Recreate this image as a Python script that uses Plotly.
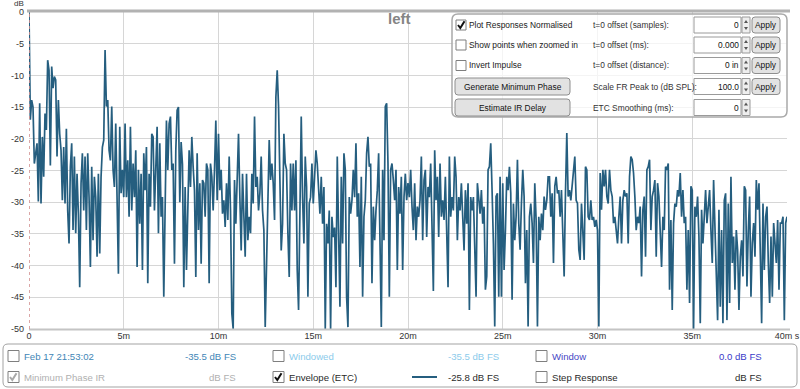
import numpy as np
import plotly.graph_objects as go

# ---------------- data ----------------
x_tick_vals = [0, 5, 10, 15, 20, 25, 30, 35, 40]
x_tick_text = ["0", "5m", "10m", "15m", "20m", "25m", "30m", "35m", "40m s"]
y_tick_vals = [0, -5, -10, -15, -20, -25, -30, -35, -40, -45, -50]
y_tick_text = ["0", "-5", "-10", "-15", "-20", "-25", "-30", "-35", "-40", "-45", "-50"]

etc_part1 = [0, -17, -13.9, -15, -23.9, -22.3, -20.7, -29.9, -14.4, -30.2,
             -19.7, -26, -16, -18.6, -7.6, -9.2, -24.2, -8.6, -12, -10.2,
             -10.7, -22.8, -13.9, -19.2, -21.8, -29.7, -21.3, -30.2, -18.4, -31.3,
             -36.5, -24.4, -20.7, -34.4, -22.8, -34.9, -25.5, -31.8, -43.4, -27,
             -22.3, -31.3, -22.8, -34.4, -22.3, -29.2, -40.2, -24.4, -36, -26,
             -29.2, -38.6, -25.5, -38.1, -26, -21.3, -20.2, -6, -14.9, -13.9,
             -21.8, -23.4, -14.9, -24.9, -27.6, -17.6, -27.6, -41.3, -18.1, -28.6,
             -24.9, -29.2, -17.6, -29.2, -23.4, -32.3, -18.1, -31.3, -23.9, -29.2,
             -21.8, -40.2, -24.9, -33.4, -25.5, -40.7, -22.3, -28.1, -21.3, -42.8,
             -25.5, -30.7, -19.2, -19.7, -31.3, -24.9, -18.1, -34.9, -20.7, -32.3,
             -29.2, -44.9, -28.1, -17.1, -24.9, -17.6, -16.5, -24.9, -23.9, -39.7,
             -21.8, -15.5]
etc_part2 = [-15, -30, -20.5, -24, -43.4, -27.6, -40.7, -28.1, -21.8, -27.6,
             -19.7, -24.4, -28.1, -41.8, -22.3, -34.4, -27, -39.7, -26.5, -27,
             -32.3, -23.9, -24.9, -42.8, -23.9, -26, -31.3, -24.9, -17.1, -29.7,
             -19.2, -28.1, -24.9, -31.8, -29.7, -33.9, -27, -32.8, -22.8, -31.3,
             -47.6, -50,
             -26.5, -33.4, -26.5, -19.2, -29.2, -37.6, -25.5, -31.3, -38.6, -25.5,
             -36, -32.3, -34.9, -25.5, -30.2, -16.5, -27.6, -26, -31.3, -28.6,
             -22.8, -31.3, -34.4, -49.7,
             -40.2, -28.1, -20.2, -26.5, -23.9, -27, -32.8, -13.4, -9.2, -14.9,
             -27, -37.6, -33.4, -19.2, -23.9, -24.9, -34.9, -41.8, -23.9, -31.3,
             -23.9, -31.3, -23.4, -40.7, -47, -29.2, -16.5, -29.2, -36.5, -22.8,
             -27.6, -44.9, -30.2, -29.2, -23.9, -30.2, -24.4, -21.8, -23.9, -29.2,
             -31.8, -26, -33.4, -27.6, -50, -33.4, -36.5, -31.3, -50, -32.3]
etc_part3 = [-35.5, -34, -43.4, -22.8, -34, -46.5, -26, -36.5, -22.3, -24.9,
             -44.9, -49.7, -29.2, -31.8, -29.7, -24.9, -29.2, -20.7, -32.3, -28.6,
             -40.2, -26, -44.9, -32.3, -29.7, -22.3, -19.7, -24.4, -23.9, -42.8,
             -30.7, -36, -31.3, -28.1, -22.3, -37.6, -49.7, -24.9, -36, -14.9,
             -14.4, -23.9, -44.9, -24.9, -23.9, -26.5, -29.7, -24.9, -40.7, -27.6,
             -31.8, -26, -40.7, -29.2, -25.5, -29.7, -27, -29.2, -24.9, -30.7,
             -34.4, -27, -36, -30.7, -32.3, -29.7, -22.8, -36, -26.5, -24.9,
             -35.5, -27.6, -29.2, -23.9, -33.4, -44, -21.8, -29.7, -26, -35.5,
             -23.9, -32.3, -29.7, -32.8, -26, -36, -43.4, -22.8, -32.3, -29.2,
             -31.3, -22.8, -26, -36, -29.2, -31.3, -27, -32.3, -37.6, -28.1,
             -33.4, -27, -47, -29.2, -31.3, -29.2, -35.5, -44.9, -27, -29.2,
             -31.8, -28.1, -33.4, -30.7]
etc_part4 = [-43.8, -41.7, -24.9, -24.4, -20.7, -28.1, -36.5, -49.6, -29.1, -28.6,
             -44.9, -26, -44.9, -27, -40.7, -34.4, -26, -28.1, -24.4, -28.6,
             -45.4, -30.2, -36, -32.3, -23.3, -33.3, -37.5, -30.2, -24.9, -29.1,
             -42.8, -34.4, -49.6, -32.3, -30.2, -33.3, -39.6, -27, -32.8, -49.6,
             -32.3, -36, -31.8, -34.4, -29.1, -31.2, -29.7, -26, -26, -32.3,
             -28.6, -39.6, -27.5, -26, -28.6, -28.1, -32.3, -28.1, -36.5, -41.7,
             -28.6, -19.1, -29.1, -28.1, -29.7, -27.5, -24.9, -22.8, -29.7, -30.2,
             -37.5, -39.1, -30.2, -34.4, -39.1, -24.4, -24.9, -32.3, -32.8, -29.7,
             -32.8, -32.3, -33.9, -32.8, -34.4, -49.6, -25.4, -31.2, -24.9, -27.5,
             -24.9, -29.1, -30.2, -24.9, -28.1, -29.1, -33.3, -32.3, -34.4, -36.5,
             -32.3, -29.1, -36.5, -29.7, -28.1, -29.1, -28.6, -36.5, -26, -22.8,
             -23.3, -25.4, -29.1, -34.4]
etc_part5 = [-32.3, -33.3, -30.7, -41.7, -31.2, -29.1, -38.6, -24.9, -24.4, -23.3,
             -34.4, -29.1, -28.1, -26.5, -38.6, -27, -29.1, -36, -40.2, -32.3,
             -34.4, -24.4, -24.9, -23.9, -43.8, -32.8, -47, -33.3, -30.2, -30.7,
             -28.1, -29.1, -25.4, -32.3, -28.1, -33.3, -32.3, -43.8, -34.4, -45.9,
             -27.5, -28.1, -50, -30.7, -32.3, -29.1, -35.4, -49.1, -31.2, -36.5,
             -31.8, -28.1, -33.3, -29.7, -28.1, -34.4, -39.6, -26.5, -33.9, -40.7,
             -48.6, -31.2, -46.5, -34.4, -49.1, -29.7, -28.6, -48.6, -30.2, -45.9,
             -26, -39.6, -35.4, -43.8, -34.4, -37.5, -47, -38.6, -36, -41.7,
             -27.5, -28.1, -43.3, -34.4, -29.1, -44.9, -36.5, -33.3, -38.6, -26.5,
             -31.2, -27, -36.5, -49.1, -30.2, -40.7, -32.3, -30.7, -39.6, -45.9,
             -35.4, -44.9, -33.3, -37.5, -39.6, -32.8, -43.8, -33.3, -33.3, -32.3,
             -48.6, -33.3, -32.3]

etc_db = etc_part1 + etc_part2 + etc_part3 + etc_part4 + etc_part5
time_ms = np.linspace(0, 40, len(etc_db))  # uniform sample grid over the 40 ms span

legend_row1 = ["Feb 17 21:53:02", "-35.5 dB FS", "Windowed", "-35.5 dB FS", "Window", "0.0 dB FS"]
legend_row2 = ["Minimum Phase IR", "dB FS", "Envelope (ETC)", "-25.8 dB FS", "Step Response", "dB FS"]
panel_left = ["Plot Responses Normalised", "Show points when zoomed in", "Invert Impulse"]
panel_buttons = ["Generate Minimum Phase", "Estimate IR Delay"]
panel_mid = ["t=0 offset (samples):", "t=0 offset (ms):", "t=0 offset (distance):",
             "Scale FR Peak to (dB SPL):", "ETC Smoothing (ms):"]
panel_inputs = ["0", "0.000", "0 in", "100.0", "0"]

# ---------------- layout helpers ----------------
W, H = 800, 389
L, R, T, B = 29, 787, 12, 329
LINE_COLOR = "#255e7f"
FONT = "Liberation Sans, Arial, sans-serif"


def fx(x):
    return (x - L) / (R - L)


def fy(y):
    return (B - y) / (B - T)


def rrect(x0, y0, x1, y1, r):
    return (f"M {fx(x0 + r)},{fy(y0)} L {fx(x1 - r)},{fy(y0)} Q {fx(x1)},{fy(y0)} {fx(x1)},{fy(y0 + r)} "
            f"L {fx(x1)},{fy(y1 - r)} Q {fx(x1)},{fy(y1)} {fx(x1 - r)},{fy(y1)} "
            f"L {fx(x0 + r)},{fy(y1)} Q {fx(x0)},{fy(y1)} {fx(x0)},{fy(y1 - r)} "
            f"L {fx(x0)},{fy(y0 + r)} Q {fx(x0)},{fy(y0)} {fx(x0 + r)},{fy(y0)} Z")


shapes = []
annotations = []


def add_rrect(x0, y0, x1, y1, r, fill, line, lw=1):
    shapes.append(dict(type="path", xref="paper", yref="paper", path=rrect(x0, y0, x1, y1, r),
                       fillcolor=fill, line=dict(color=line, width=lw), layer="above"))


def add_rect(x0, y0, x1, y1, fill, line, lw=1):
    shapes.append(dict(type="rect", xref="paper", yref="paper", x0=fx(x0), x1=fx(x1),
                       y0=fy(y1), y1=fy(y0), fillcolor=fill, line=dict(color=line, width=lw), layer="above"))


def add_line(x0, y0, x1, y1, color, width, dash="solid"):
    shapes.append(dict(type="line", xref="paper", yref="paper", x0=fx(x0), x1=fx(x1),
                       y0=fy(y0), y1=fy(y1), line=dict(color=color, width=width, dash=dash), layer="above"))


def add_text(x, y, text, size=9, color="#222", anchor="left", bold=False):
    if bold:
        text = f"<b>{text}</b>"
    annotations.append(dict(xref="paper", yref="paper", x=fx(x), y=fy(y), text=text, showarrow=False,
                            xanchor=anchor, yanchor="middle", borderpad=0,
                            font=dict(size=size, color=color, family=FONT)))


def checkbox(x, yc, checked, size=10, check_color="#111"):
    add_rect(x, yc - size / 2, x + size, yc + size / 2, "white", "#7f7f7f", 1)
    if checked:
        shapes.append(dict(type="path", xref="paper", yref="paper",
                           path=f"M {fx(x + 2)},{fy(yc)} L {fx(x + 4.3)},{fy(yc + 3)} L {fx(x + 8.5)},{fy(yc - 3.8)}",
                           line=dict(color=check_color, width=2), layer="above"))


# plot frame decorations
add_line(27, 11, 790, 11, "#b2b2b2", 3)
add_line(29, 329.5, 790, 329.5, "#c4c4c4", 2)
shapes.append(dict(type="line", xref="x", yref="y", x0=0, x1=0, y0=-50, y1=0,
                   line=dict(color="#d39090", width=1.6, dash="dot"), layer="above"))

# title
add_text(399, 19, "left", size=15, color="#858585", anchor="center", bold=True)

# y unit
add_text(19, 3.5, "dB", size=8, color="#333", anchor="center")

# ------------- control panel -------------
add_rrect(452, 14, 787, 117, 6, "rgba(255,255,255,0.72)", "#a9a9a9", 1.5)
rows = [25, 45, 65.5, 86.5, 107.5]
PS = 8.4
for k, lbl in enumerate(panel_left):
    checkbox(456, rows[k], checked=(k == 0))
    add_text(468, rows[k], lbl, size=PS, color="#222")
for k, lbl in enumerate(panel_buttons):
    yc = rows[3 + k]
    add_rrect(455, yc - 8.5, 570, yc + 8.5, 3, "#e2e2e2", "#8e8e8e", 1)
    add_text(512.5, yc, lbl, size=PS, color="#111", anchor="center")
for k, lbl in enumerate(panel_mid):
    add_text(592, rows[k], lbl, size=PS, color="#333")
for k, val in enumerate(panel_inputs):
    yc = rows[k]
    add_rect(694, yc - 8, 741, yc + 8, "white", "#9a9a9a", 1)
    add_text(740, yc, val, size=PS, color="#111", anchor="right")
    add_rect(742, yc - 8, 750, yc + 8, "#eeeeee", "#9a9a9a", 1)
    shapes.append(dict(type="path", xref="paper", yref="paper",
                       path=f"M {fx(744)},{fy(yc - 2)} L {fx(748)},{fy(yc - 2)} L {fx(746)},{fy(yc - 5)} Z",
                       fillcolor="#555", line=dict(width=0), layer="above"))
    shapes.append(dict(type="path", xref="paper", yref="paper",
                       path=f"M {fx(744)},{fy(yc + 2)} L {fx(748)},{fy(yc + 2)} L {fx(746)},{fy(yc + 5)} Z",
                       fillcolor="#555", line=dict(width=0), layer="above"))
    if k < 4:
        add_rrect(752, yc - 8, 780, yc + 8, 3, "#e2e2e2", "#8e8e8e", 1)
        add_text(766, yc, "Apply", size=PS, color="#111", anchor="center")

# ------------- legend box -------------
add_rrect(3, 344, 797, 387, 5, "white", "#a3a3a3", 1)
r1, r2 = 356, 377
LS = 9.6
checkbox(8, r1, False, size=11)
add_text(23, r1, legend_row1[0], size=LS, color="#3f86b6")
add_text(237, r1, legend_row1[1], size=LS, color="#3f86b6", anchor="right")
checkbox(273, r1, False, size=11)
add_text(288, r1, legend_row1[2], size=LS, color="#8ccbeb")
add_text(500, r1, legend_row1[3], size=LS, color="#8ccbeb", anchor="right")
checkbox(536, r1, False, size=11)
add_text(551, r1, legend_row1[4], size=LS, color="#4646c4")
add_text(763, r1, legend_row1[5], size=LS, color="#3a3ac8", anchor="right")

checkbox(8, r2, True, size=11, check_color="#a8a8a8")
add_text(23, r2, legend_row2[0], size=LS, color="#b0b0b0")
add_text(237, r2, legend_row2[1], size=LS, color="#b0b0b0", anchor="right")
checkbox(273, r2, True, size=11)
add_text(288, r2, legend_row2[2], size=LS, color="#2a2a2a")
add_line(412, r2, 437, r2, LINE_COLOR, 2)
add_text(500, r2, legend_row2[3], size=LS, color="#2a2a2a", anchor="right")
checkbox(536, r2, False, size=11)
add_text(551, r2, legend_row2[4], size=LS, color="#2a2a2a")
add_text(763, r2, legend_row2[5], size=LS, color="#2a2a2a", anchor="right")

# ---------------- figure ----------------
fig = go.Figure()
fig.add_trace(go.Scatter(x=time_ms, y=etc_db, mode="lines",
                         line=dict(color=LINE_COLOR, width=1.7), hoverinfo="skip"))

fig.update_layout(
    width=W, height=H,
    margin=dict(l=L, r=W - R, t=T, b=H - B, pad=0, autoexpand=False),
    paper_bgcolor="white", plot_bgcolor="white",
    showlegend=False,
    font=dict(family=FONT, size=9, color="#333"),
    xaxis=dict(range=[0, 40], tickvals=x_tick_vals, ticktext=x_tick_text, automargin=False,
               showgrid=True, gridcolor="#d6d6d6", gridwidth=1, zeroline=False,
               showline=False, ticks="", tickfont=dict(size=9, color="#333", family=FONT),
               fixedrange=True),
    yaxis=dict(range=[-50, 0], tickvals=y_tick_vals, ticktext=y_tick_text, automargin=False,
               showgrid=True, gridcolor="#d6d6d6", gridwidth=1, zeroline=False,
               showline=False, ticks="", tickfont=dict(size=9, color="#333", family=FONT),
               ticklabelstandoff=4, fixedrange=True),
    shapes=shapes,
    annotations=annotations,
)

fig.write_html("out.html", config={"displayModeBar": False},
               post_script="document.body.style.margin='0';")
